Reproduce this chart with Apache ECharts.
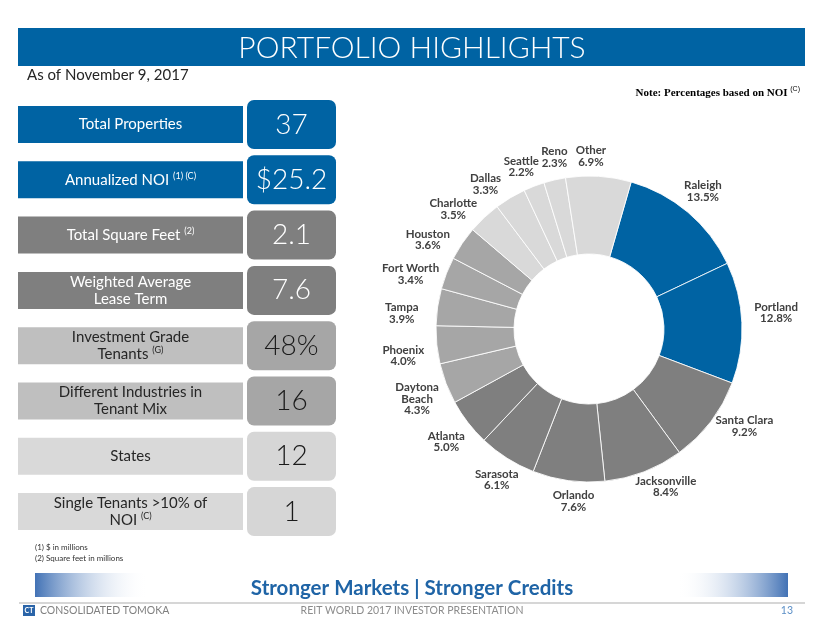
<!DOCTYPE html>
<html>
<head>
<meta charset="utf-8">
<script src="https://cdn.jsdelivr.net/npm/echarts@6/dist/echarts.min.js"></script>
<style>html,body{margin:0;padding:0;background:#fff;}#chart{width:824px;height:637px;}</style>
</head>
<body>
<div id="chart"></div>
<script>
// ---- Data ----
var marketNames = ['Raleigh','Portland','Santa Clara','Jacksonville','Orlando','Sarasota','Atlanta','Daytona\nBeach','Phoenix','Tampa','Fort Worth','Houston','Charlotte','Dallas','Seattle','Reno','Other'];
var marketShares = [13.5,12.8,9.2,8.4,7.6,6.1,5.0,4.3,4.0,3.9,3.4,3.6,3.5,3.3,2.2,2.3,6.9];
var marketGroups = [0,0,1,1,1,1,1,2,2,2,2,2,3,3,3,3,3];
var statLabels = ['Total Properties','Annualized NOI','Total Square Feet','Weighted Average\nLease Term','Investment Grade\nTenants','Different Industries in\nTenant Mix','States','Single Tenants >10% of\nNOI'];
var statNotes = ['','(1) (C)','(2)','','(G)','','','(C)'];
var statValues = ['37','$25.2','2.1','7.6','48%','16','12','1'];
var footnotes = ['(1) $ in millions','(2) Square feet in millions'];

// ---- Styles ----
var groupColors = ['#0063A3','#7F7F7F','#A6A6A6','#D9D9D9'];
var rowLabelFill = ['#0063A3','#0063A3','#7F7F7F','#7F7F7F','#BFBFBF','#BFBFBF','#D9D9D9','#D9D9D9'];
var rowValueFill = ['#0063A3','#0063A3','#7F7F7F','#7F7F7F','#A6A6A6','#A6A6A6','#D6D6D6','#D6D6D6'];
var FONT = 'Lato, "Open Sans", sans-serif';
var PIE_CX = 589, PIE_CY = 329;

function grad(c0, c1) {
  return {type:'linear', x:0, y:0, x2:1, y2:0, colorStops:[{offset:0,color:c0},{offset:1,color:c1}]};
}

var graphics = [];
graphics.push({type:'rect', shape:{x:18,y:28,width:787,height:38}, style:{fill:'#0063A3'}});
graphics.push({type:'text', x:412, y:48, style:{text:'PORTFOLIO HIGHLIGHTS', fill:'#fff', font:'300 30px ' + FONT, align:'center', verticalAlign:'middle'}});
graphics.push({type:'text', x:27, y:75, style:{text:'As of November 9, 2017', fill:'#262626', font:'15px ' + FONT, align:'left', verticalAlign:'middle'}});
graphics.push({type:'text', x:800, y:93, style:{
  text:'{n|Note: Percentages based on NOI }{s|(C)}', align:'right', verticalAlign:'middle',
  rich:{n:{fontFamily:'"Liberation Serif", serif', fontWeight:'bold', fontSize:11, fill:'#000', lineHeight:14},
        s:{fontFamily:'Arial, sans-serif', fontSize:7, fill:'#000', verticalAlign:'top', lineHeight:9}}
}});

for (var i = 0; i < statLabels.length; i++) {
  var rowTop = 106 + i * 55.3;
  var dark = i >= 4;
  var tc = dark ? '#262626' : '#fff';
  graphics.push({type:'rect', shape:{x:18, y:rowTop, width:225, height:37}, style:{fill:rowLabelFill[i]}});
  graphics.push({type:'rect', shape:{x:247, y:rowTop - 6, width:89, height:49, r:7}, style:{fill:rowValueFill[i]}});
  var lines = statLabels[i].split('\n');
  var parts = [];
  for (var k = 0; k < lines.length; k++) {
    var seg = '{m|' + lines[k] + '}';
    if (k === lines.length - 1 && statNotes[i]) seg = '{m|' + lines[k] + ' }{s|' + statNotes[i] + '}';
    parts.push(seg);
  }
  graphics.push({type:'text', x:130.5, y:rowTop + 18.5, style:{
    text: parts.join('\n'), align:'center', verticalAlign:'middle',
    rich:{m:{fontFamily:FONT, fontSize:15, fill:tc, lineHeight:17},
          s:{fontFamily:FONT, fontSize:9, fill:tc, lineHeight:12, verticalAlign:'top'}}
  }});
  graphics.push({type:'text', x:291.5, y:rowTop + 18.5, style:{text:statValues[i], fill:dark ? '#1a1a1a' : '#fff', font:'300 28px ' + FONT, align:'center', verticalAlign:'middle'}});
}

for (var f = 0; f < footnotes.length; f++) {
  graphics.push({type:'text', x:35, y:547 + f * 11, style:{text:footnotes[f], fill:'#333', font:'8px ' + FONT, verticalAlign:'middle'}});
}

graphics.push({type:'rect', shape:{x:35,y:573,width:113,height:24}, style:{fill:grad('#4272B5','rgba(255,255,255,0)')}});
graphics.push({type:'rect', shape:{x:677,y:573,width:111,height:24}, style:{fill:grad('rgba(255,255,255,0)','#4272B5')}});
graphics.push({type:'text', x:412, y:588, style:{text:'Stronger Markets | Stronger Credits', fill:'#1F64A6', font:'bold 20.5px ' + FONT, align:'center', verticalAlign:'middle'}});
graphics.push({type:'line', shape:{x1:19,y1:603,x2:805,y2:603}, style:{stroke:'#C8C8C8', lineWidth:1.5}});
graphics.push({type:'rect', shape:{x:23,y:605,width:12,height:11}, style:{fill:'#2A64A8'}});
graphics.push({type:'text', x:29, y:611, style:{text:'CT', fill:'#fff', font:'bold 7px ' + FONT, align:'center', verticalAlign:'middle'}});
graphics.push({type:'text', x:40, y:611, style:{text:'CONSOLIDATED TOMOKA', fill:'#7F7F7F', font:'10.5px ' + FONT, verticalAlign:'middle'}});
graphics.push({type:'text', x:412, y:611, style:{text:'REIT WORLD 2017 INVESTOR PRESENTATION', fill:'#8C8C8C', font:'10.5px ' + FONT, align:'center', verticalAlign:'middle'}});
graphics.push({type:'text', x:793, y:611, style:{text:'13', fill:'#5B8FC7', font:'10.5px ' + FONT, align:'right', verticalAlign:'middle'}});

var pieData = marketNames.map(function (n, idx) {
  return {name:n, value:marketShares[idx], itemStyle:{color:groupColors[marketGroups[idx]]}};
});
var labelData = marketNames.map(function (n, idx) {
  return {name:n, value:marketShares[idx]};
});

// simple clockwise collision avoidance for the ring labels
var placedLabels = [];
function overlapsPlaced(cx, cy, w, h) {
  for (var j = 0; j < placedLabels.length; j++) {
    var p = placedLabels[j];
    if (Math.abs(cx - p.cx) < (w + p.w) / 2 + 2 && Math.abs(cy - p.cy) < (h + p.h) / 2 + 1) return true;
  }
  return false;
}
function layoutRingLabel(params) {
  if (params.dataIndex === 0) placedLabels = [];
  var r = params.labelRect;
  var cx = r.x + r.width / 2;
  var cy = PIE_CY + (r.y + r.height / 2 - PIE_CY) * 0.92;
  var dx = cx - PIE_CX, dy = cy - PIE_CY;
  var len = Math.sqrt(dx * dx + dy * dy) || 1;
  var tx = -dy / len, ty = dx / len;
  var steps = 0;
  while (overlapsPlaced(cx, cy, r.width, r.height) && steps < 40) {
    cx += tx; cy += ty; steps++;
  }
  placedLabels.push({cx:cx, cy:cy, w:r.width, h:r.height});
  return {x:cx, y:cy, align:'center', verticalAlign:'middle', hideOverlap:false};
}

var chart = echarts.init(document.getElementById('chart'), null, {renderer:'canvas'});
chart.setOption({
  animation:false,
  backgroundColor:'#fff',
  graphic:{elements:graphics},
  series:[{
    type:'pie',
    center:[PIE_CX, PIE_CY],
    radius:[75,153],
    startAngle:74,
    clockwise:true,
    itemStyle:{borderColor:'rgba(255,255,255,0.85)', borderWidth:1},
    label:{show:false},
    labelLine:{show:false},
    emphasis:{disabled:true},
    silent:true,
    data:pieData
  }, {
    // transparent ring that only carries the category labels around the donut
    type:'pie',
    center:[PIE_CX, PIE_CY],
    radius:[167,203],
    startAngle:77,
    clockwise:true,
    silent:true,
    avoidLabelOverlap:false,
    emphasis:{disabled:true},
    itemStyle:{color:'rgba(0,0,0,0)', borderWidth:0},
    label:{show:true, position:'inside', color:'#404040', fontFamily:FONT, fontWeight:'bold', fontSize:11.5, lineHeight:11.5,
      formatter:function (p) { return p.name + '\n' + p.value.toFixed(1) + '%'; }},
    labelLine:{show:false},
    labelLayout:layoutRingLabel,
    data:labelData
  }]
});
</script>
</body>
</html>
